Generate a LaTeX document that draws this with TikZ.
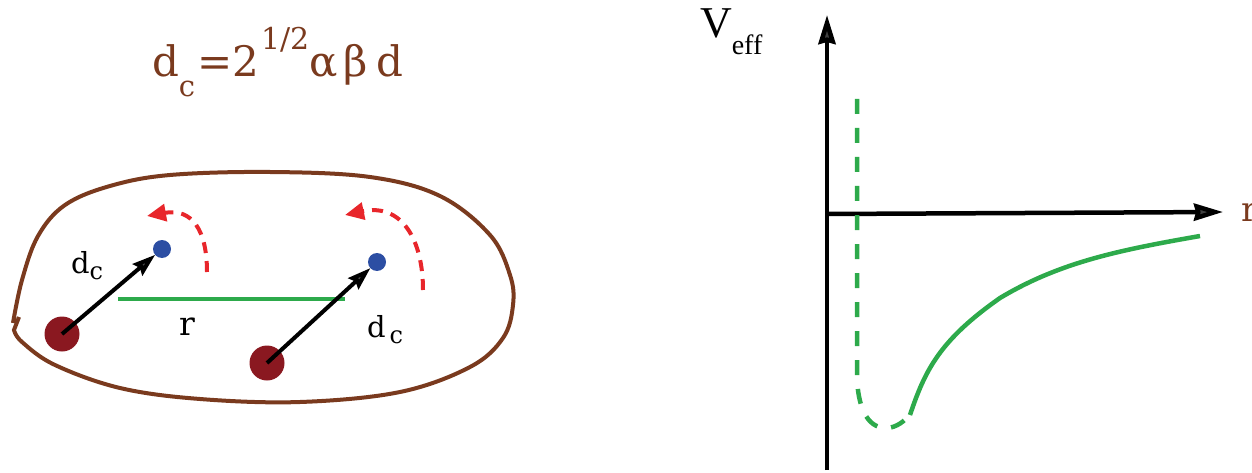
\documentclass[tikz,border=0pt]{standalone}
\usepackage{fontspec}
\newfontfamily\timesfont{Liberation Serif}
\newfontfamily\labelfont{DejaVu Serif}
\usetikzlibrary{arrows.meta,positioning}
\definecolor{shellBrown}{HTML}{7A3A1E}
\definecolor{nucRed}    {HTML}{8A1820}
\definecolor{elecBlue}  {HTML}{2C4EA3}
\definecolor{orbitRed}  {HTML}{E8262B}
\definecolor{potGreen}  {HTML}{2DAA4B}

\begin{document}
\begin{tikzpicture}[x=1pt, y=-1pt,
        every node/.style={inner sep=0pt, outer sep=0pt},
        shell/.style={draw=shellBrown, line width=4pt},
        nuc/.style={circle, fill=nucRed, minimum size=35pt},
        elec/.style={circle, fill=elecBlue, minimum size=18pt},
        dcar/.style={-{Stealth[length=23pt, width=15pt, inset=3pt, fill=black!70]}, line width=4pt},
        orbit/.style={orbitRed, line width=4pt, dash pattern=on 11pt off 8pt, -{Triangle[length=19pt, width=17pt]}},
        axis/.style={-{Stealth[length=29pt, width=17pt, inset=2pt, fill=black!75]}, line width=4.5pt},
        pot/.style={potGreen, line width=4.5pt},
        lbl/.style={anchor=base west, font=\labelfont\fontsize{29}{29}\selectfont}
    ]
    \useasboundingbox (0,0) rectangle (1252,473);
    % formula
    \node[anchor=base west, text=shellBrown, font=\labelfont\fontsize{42}{42}\selectfont] (form) at (152,77)
        {d\raisebox{-20pt}{\fontsize{29}{29}\selectfont c}\hspace{2pt}=2\hspace{2pt}\raisebox{27pt}{\fontsize{30}{30}\selectfont 1/2}\hspace{0pt}α\hspace{6pt}β\hspace{9pt}d};
    % closed shell
    \draw[shell] plot[smooth, tension=0.6] coordinates {(13,323) (22,280) (38,236) (65,205) (110,186)
        (170,175) (270,172) (370,177) (440,196) (490,235) (510,275) (513,305) (503,338) (470,367)
        (400,392) (300,402) (200,399) (120,388) (55,365) (22,342) (14,330)} -- (19,317);
    % nuclei and electrons
    \node[nuc] (n1) at (62,334) {};
    \node[nuc] (n2) at (267,363) {};
    \node[elec] (e1) at (162,249) {};
    \node[elec] (e2) at (377,262) {};
    \coordinate (r1) at (118,299);
    \coordinate (r2) at (345,299);
    \draw[pot, line width=4pt] (r1) -- (r2);
    \draw[dcar] (n1.center) -- (e1);
    \draw[dcar] (n2.center) -- (e2);
    \node[lbl] (dc1) at (71,273) {d\raisebox{-6pt}{\fontsize{24}{24}\selectfont c}};
    \node[lbl] (dc2) at (367,337) {d\hspace{4pt}\raisebox{-6pt}{\fontsize{24}{24}\selectfont c}};
    \node[lbl, font=\labelfont\fontsize{33}{33}\selectfont] (rlab) at (179,335) {r};
    % orbits
    \coordinate (o1) at (207,272);
    \coordinate (o2) at (423,290);
    \draw[orbit] (o1) .. controls (207,230) and (192,208) .. (147,216);
    \draw[orbit] (o2) .. controls (423,240) and (402,203) .. (345,215);
    % potential plot
    \coordinate (org) at (827,214);
    \coordinate (ybot) at (827,470);
    \coordinate (ytop) at (827,15);
    \coordinate (xend) at (1223,212);
    \draw[axis] (ybot) -- (ytop);
    \draw[axis] (org) -- (xend);
    \node[anchor=base west] (veff) at (700,38)
        {\timesfont\fontsize{44}{44}\selectfont V\raisebox{-17pt}{\fontsize{28}{28}\selectfont eff}};
    \node[anchor=base west, text=shellBrown, font=\labelfont\fontsize{34}{34}\selectfont] (rax) at (1241,221) {r};
    \draw[pot, dash pattern=on 15pt off 14pt] (857,99) -- (857,378)
        .. controls (858,405) and (866,428) .. (886,428) .. controls (897,428) and (905,420) .. (910,415);
    \draw[pot] (910,415) .. controls (925,370) and (940,340) .. (1000,298)
        .. controls (1060,262) and (1120,250) .. (1200,236);
\end{tikzpicture}
\end{document}
